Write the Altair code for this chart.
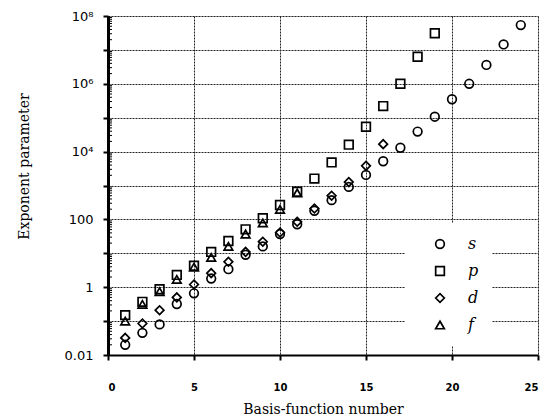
import altair as alt
import pandas as pd

# Basis-function exponents
s_vals = [0.02, 0.045, 0.08, 0.32, 0.66, 1.8, 3.4, 9, 16, 37, 72, 180, 370, 910,
          2050, 5200, 13000, 39000, 1.07e5, 3.5e5, 1.0e6, 3.6e6, 1.45e7, 5.4e7]
p_vals = [0.15, 0.37, 0.87, 2.3, 4.3, 11, 23, 51, 108, 265, 655, 1600, 4800,
          16000, 54000, 2.2e5, 1.0e6, 6.3e6, 3.1e7]
d_vals = [0.032, 0.085, 0.21, 0.5, 1.2, 2.6, 5.6, 11, 22, 41, 85, 210, 500,
          1260, 3800, 16600]
f_vals = [0.1, 0.31, 0.74, 1.7, 3.9, 7.6, 16, 37, 79, 198, 600]

series = {"s": s_vals, "p": p_vals, "d": d_vals, "f": f_vals}
rows = []
for name, vals in series.items():
    for i, v in enumerate(vals):
        rows.append({"n": i + 1, "value": v, "type": name})
df = pd.DataFrame(rows)

decades = [10.0 ** k for k in range(-2, 9)]
minor = pd.DataFrame({"m": [m * 10.0 ** k for k in range(-2, 8) for m in range(2, 10)]})

x_scale = alt.Scale(domain=[0, 25], nice=False, zero=False)
y_scale = alt.Scale(type="log", domain=[0.01, 1e8], nice=False)

label_expr = ("round(log(datum.value)/LN10) == -2 ? '0.01' : "
              "round(log(datum.value)/LN10) == 0 ? '1' : "
              "round(log(datum.value)/LN10) == 2 ? '100' : "
              "round(log(datum.value)/LN10) == 4 ? '10\u2074' : "
              "round(log(datum.value)/LN10) == 6 ? '10\u2076' : "
              "round(log(datum.value)/LN10) == 8 ? '10\u2078' : ''")

points = alt.Chart(df).mark_point(filled=False, color="black", strokeWidth=1.7, size=75, opacity=1).encode(
    x=alt.X("n:Q", scale=x_scale,
            axis=alt.Axis(title="Basis-function number", values=[0, 5, 10, 15, 20, 25],
                          labelFont="DejaVu Sans", labelFontSize=10, labelFontWeight="bold",
                          labelPadding=22, tickSize=5, tickColor="black", tickWidth=2,
                          domainColor="black", domainWidth=2,
                          grid=True, gridColor="#222", gridDash=[2, 1], gridWidth=1,
                          titleFont="DejaVu Serif", titleFontSize=14, titleFontWeight="normal",
                          titleColor="black", labelColor="black", titleY=58,
                          titleBaseline="alphabetic")),
    y=alt.Y("value:Q", scale=y_scale,
            axis=alt.Axis(title="Exponent parameter", values=decades, labelExpr=label_expr,
                          labelFont="DejaVu Sans", labelFontSize=13, labelPadding=10,
                          tickSize=5, tickColor="black", tickWidth=2,
                          domainColor="black", domainWidth=3,
                          grid=True, gridColor="#222", gridDash=[2, 1], gridWidth=1,
                          titleFont="DejaVu Serif", titleFontSize=14, titleFontWeight="normal",
                          titleColor="black", labelColor="black",
                          titleX=-84, titleY=150, titleAlign="center", titleBaseline="middle")),
    shape=alt.Shape("type:N",
                    scale=alt.Scale(domain=["s", "p", "d", "f"],
                                    range=["circle", "square", "diamond", "triangle-up"]),
                    legend=alt.Legend(title=None, orient="none", legendX=297, legendY=207,
                                      fillColor="white", padding=13, symbolOffset=14,
                                      symbolSize=75, symbolStrokeColor="black",
                                      symbolStrokeWidth=1.7, symbolFillColor="transparent",
                                      labelFont="DejaVu Serif", labelFontStyle="italic",
                                      labelFontSize=16, labelOffset=20, rowPadding=11,
                                      labelColor="black")),
)

minor_ticks = alt.Chart(minor).mark_rule(color="black", strokeWidth=1).encode(
    y=alt.Y("m:Q", scale=y_scale),
    x=alt.value(0), x2=alt.value(4),
)

chart = alt.layer(minor_ticks, points).properties(
    width=430, height=339,
    autosize=alt.AutoSizeParams(type="none"),
    padding={"left": 100, "top": 8, "right": 2, "bottom": 62},
).configure_view(stroke="black", strokeWidth=2).configure(background="white")

chart.save("out.html", embed_options={"renderer": "svg", "actions": False})
